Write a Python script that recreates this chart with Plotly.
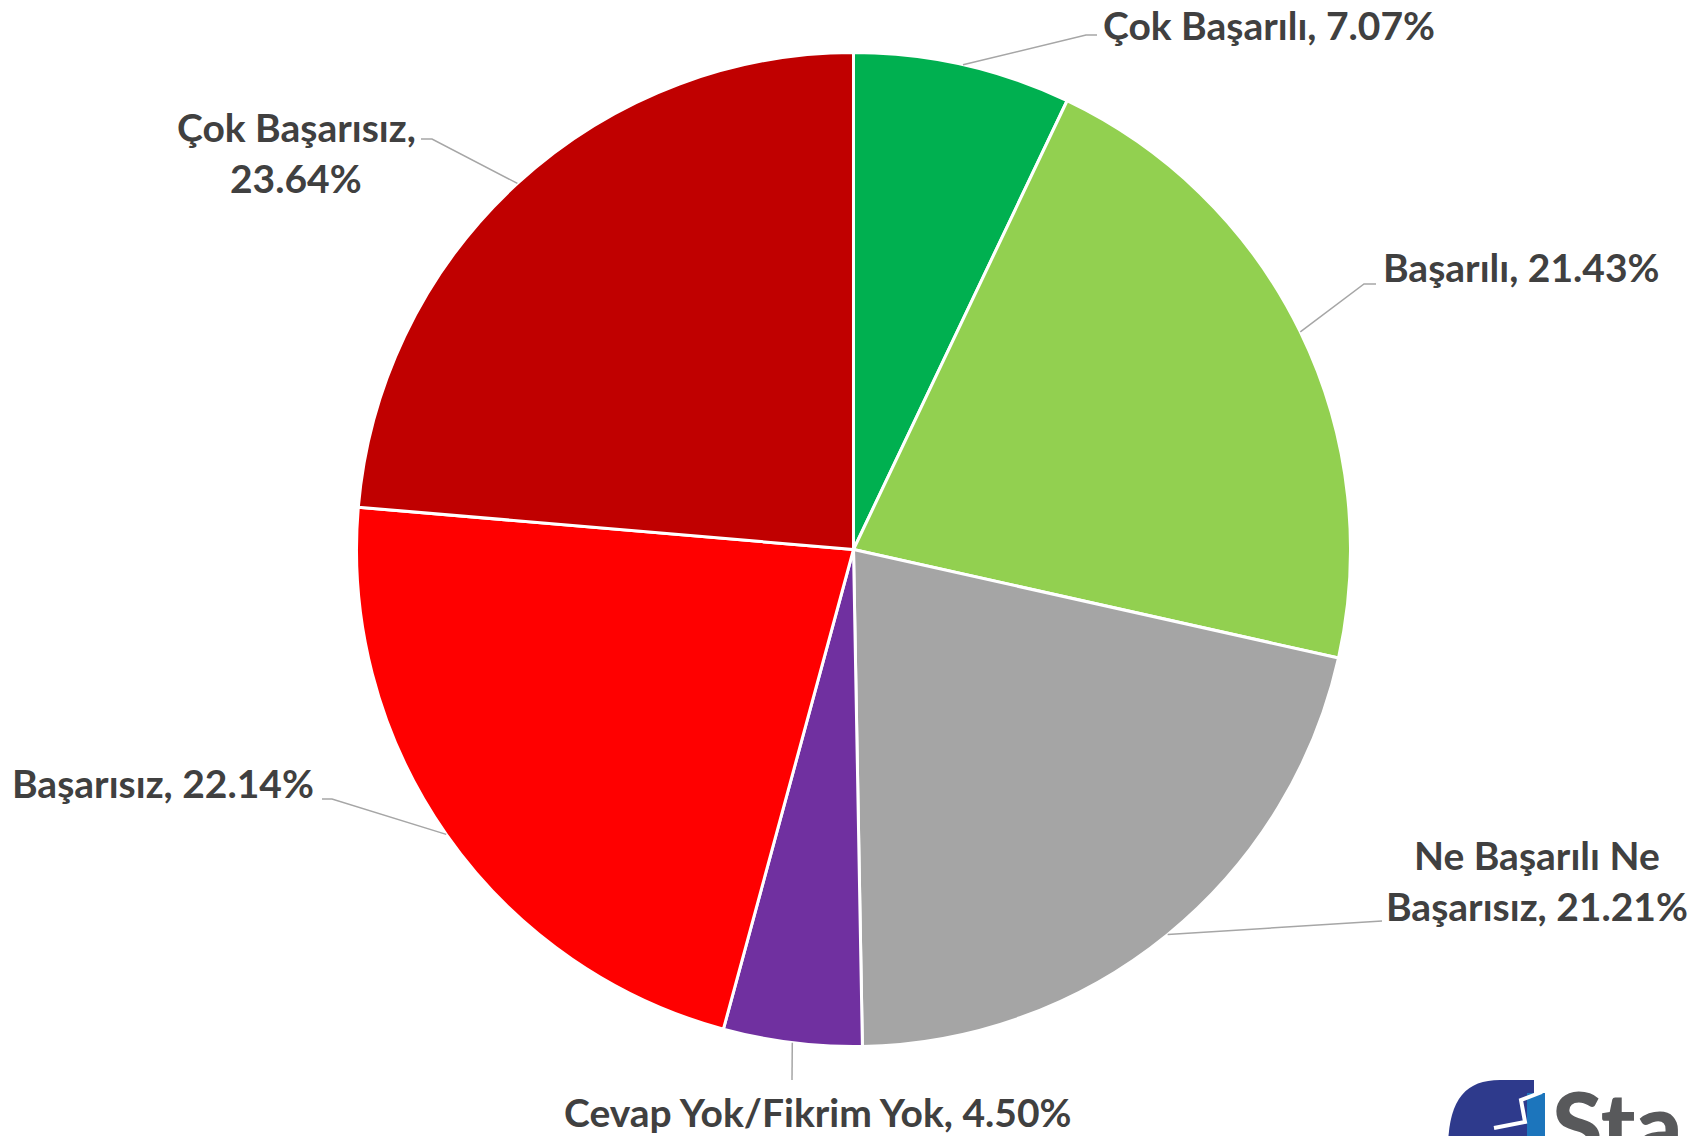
import math
import plotly.graph_objects as go

# ---- data ----
categories = ["Çok Başarılı", "Başarılı", "Ne Başarılı Ne Başarısız",
              "Cevap Yok/Fikrim Yok", "Başarısız", "Çok Başarısız"]
values = [7.07, 21.43, 21.21, 4.50, 22.14, 23.64]
label_lines = [["Çok Başarılı, 7.07%"], ["Başarılı, 21.43%"],
               ["Ne Başarılı Ne", "Başarısız, 21.21%"],
               ["Cevap Yok/Fikrim Yok, 4.50%"], ["Başarısız, 22.14%"],
               ["Çok Başarısız,", "23.64%"]]
colors = ["#00B050", "#92D050", "#A5A5A5", "#7030A0", "#FF0000", "#C00000"]

W, H = 1700, 1136
OFF = 8  # page body margin compensation
CX, CY, R = 853.5, 549.5, 497

def px(x):
    return (x - OFF) / W

def py(y):
    return 1 - (y - OFF) / H

# label layout (pixels): text anchor x, line center ys, xanchor, leader elbow/end points
label_layout = [
    dict(x=1101, ys=[25], xa="left", pts=[(1086, 35), (1097, 35)]),
    dict(x=1381, ys=[267], xa="left", pts=[(1364, 284), (1376, 284)]),
    dict(x=1537, ys=[855, 906], xa="center", pts=[(1382, 921)]),
    dict(x=818, ys=[1112], xa="center", pts=[(792, 1080)]),
    dict(x=316, ys=[783], xa="right", pts=[(332, 799), (322, 799)]),
    dict(x=296, ys=[127, 178], xa="center", pts=[(432, 139), (421, 139)]),
]

fig = go.Figure(go.Pie(
    labels=categories, values=values, sort=False, direction="clockwise",
    rotation=0, marker=dict(colors=colors, line=dict(color="white", width=3)),
    textinfo="none", hoverinfo="label+percent", showlegend=False,
    domain=dict(x=[px(CX - R), px(CX + R)], y=[py(CY + R), py(CY - R)]),
))

font = dict(family="Lato", size=39, color="#404040", weight=700)
annotations = []
shapes = []
total = sum(values)
cum = 0.0
for v, lines, lay in zip(values, label_lines, label_layout):
    mid = (cum + v / 2) / total * 2 * math.pi
    cum += v
    ex = CX + R * math.sin(mid)
    ey = CY - R * math.cos(mid)
    pts = [(ex, ey)] + lay["pts"]
    path = "M " + " L ".join(f"{px(a):.5f},{py(b):.5f}" for a, b in pts)
    shapes.append(dict(type="path", xref="paper", yref="paper", path=path,
                       line=dict(color="#A6A6A6", width=1.5)))
    for t, yy in zip(lines, lay["ys"]):
        annotations.append(dict(text=t, x=px(lay["x"]), y=py(yy), xref="paper", yref="paper",
                                xanchor=lay["xa"], yanchor="middle", showarrow=False, font=font))

# partial logo at bottom right
shapes.append(dict(type="path", xref="paper", yref="paper",
                   path=f"M {px(1448)},{py(1150)} C {px(1448)},{py(1100)} {px(1465)},{py(1080)} {px(1500)},{py(1080)} "
                        f"L {px(1534)},{py(1080)} L {px(1534)},{py(1150)} Z",
                   fillcolor="#2E3A8C", line=dict(width=0)))
shapes.append(dict(type="rect", xref="paper", yref="paper", x0=px(1527), x1=px(1545),
                   y0=py(1150), y1=py(1093), fillcolor="#1C75BC", line=dict(width=0)))
shapes.append(dict(type="path", xref="paper", yref="paper",
                   path=f"M {px(1542)},{py(1092)} L {px(1521)},{py(1100)} L {px(1525)},{py(1122)} L {px(1494)},{py(1128)}",
                   line=dict(color="white", width=4)))
annotations.append(dict(text="Sta", x=px(1550), y=py(1066), xref="paper", yref="paper",
                        xanchor="left", yanchor="top", showarrow=False,
                        font=dict(family="Lato", size=92, color="#58595B", weight=900)))

fig.update_layout(width=W, height=H, margin=dict(l=0, r=0, t=0, b=0),
                  paper_bgcolor="white", plot_bgcolor="white",
                  annotations=annotations, shapes=shapes)
fig.write_html("out.html")
